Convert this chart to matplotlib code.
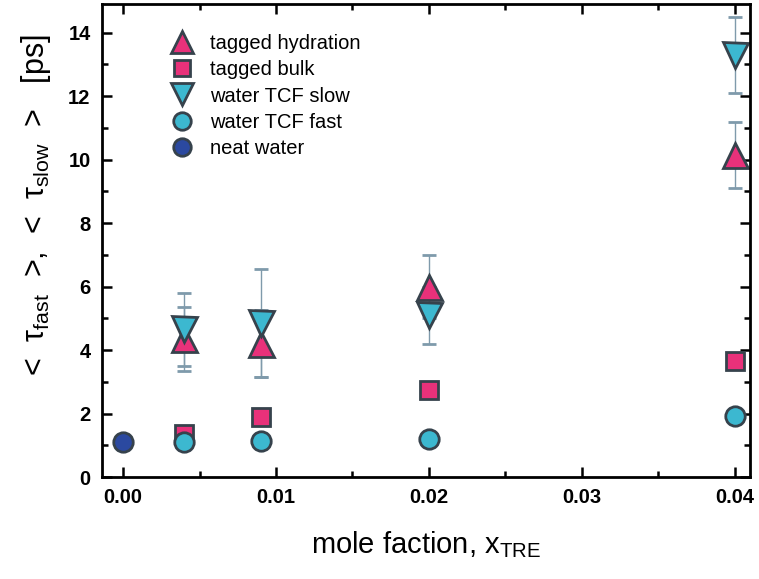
import matplotlib
matplotlib.use("Agg")
import matplotlib.pyplot as plt
from matplotlib.ticker import MultipleLocator, FormatStrFormatter

plt.rcParams['font.family'] = ['Liberation Sans', 'DejaVu Sans']
plt.rcParams['mathtext.fontset'] = 'custom'
plt.rcParams['mathtext.rm'] = 'Liberation Sans'
plt.rcParams['mathtext.it'] = 'Liberation Sans'

# ===== data =====
x_conc = [0.004, 0.009, 0.02, 0.04]

hydr_y = [4.35, 4.2, 6.0, 10.15]
hydr_err = [1.0, 1.05, 1.0, 1.05]

bulk_y = [1.35, 1.9, 2.75, 3.65]
bulk_err = [0.1, 0.1, 0.12, 0.15]

slow_y = [4.65, 4.85, 5.1, 13.3]
slow_err = [1.15, 1.7, 0.9, 1.2]

fast_y = [1.12, 1.15, 1.2, 1.92]
fast_err = [0.08, 0.08, 0.08, 0.1]

neat_x = [0.0]
neat_y = [1.1]

PINK = '#e8317a'
CYAN = '#3cb8d0'
NAVY = '#2b49a0'
EDGE = '#36424c'
ERR = '#7f9aab'

fig = plt.figure(figsize=(7.59, 5.79), dpi=100)
ax = fig.add_axes([0.134, 0.176, 0.854, 0.817])

common = dict(linestyle='none', ecolor=ERR, elinewidth=1.0, capsize=5,
              capthick=1.0, markeredgecolor=EDGE, markeredgewidth=2.0)

h1 = ax.errorbar(x_conc, hydr_y, yerr=hydr_err, marker='^', markersize=18,
                 markerfacecolor=PINK, **common)
h2 = ax.errorbar(x_conc, bulk_y, yerr=bulk_err, marker='s', markersize=13,
                 markerfacecolor=PINK, **common)
h3 = ax.errorbar(x_conc, slow_y, yerr=slow_err, marker='v', markersize=18,
                 markerfacecolor=CYAN, **common)
h4 = ax.errorbar(x_conc, fast_y, yerr=fast_err, marker='o', markersize=14,
                 markerfacecolor=CYAN, **common)
h5, = ax.plot(neat_x, neat_y, linestyle='none', marker='o', markersize=14,
              markerfacecolor=NAVY, markeredgecolor=EDGE, markeredgewidth=2.0)

ax.set_xlim(-0.0014, 0.041)
ax.set_ylim(0, 14.9)
ax.xaxis.set_major_locator(MultipleLocator(0.01))
ax.xaxis.set_minor_locator(MultipleLocator(0.005))
ax.yaxis.set_major_locator(MultipleLocator(2))
ax.yaxis.set_minor_locator(MultipleLocator(1))
ax.xaxis.set_major_formatter(FormatStrFormatter('%.2f'))

ax.tick_params(which='both', direction='in', top=True, right=True, width=1.8)
ax.tick_params(which='major', length=7, labelsize=14.5, pad=8)
ax.tick_params(which='minor', length=4)
for lab in ax.get_xticklabels() + ax.get_yticklabels():
    lab.set_fontweight('bold')
for sp in ax.spines.values():
    sp.set_linewidth(2.0)

ax.set_xlabel(r'mole faction, x$_{\mathrm{TRE}}$', fontsize=21, labelpad=16)
ax.set_ylabel(r'<  $\tau_{\mathrm{fast}}$  >,  <  $\tau_{\mathrm{slow}}$  >   [ps]',
              fontsize=22)
ax.yaxis.set_label_coords(-0.075, 0.575)

ax.legend([h1[0], h2[0], h3[0], h4[0], h5],
          ['tagged hydration', 'tagged bulk', 'water TCF slow',
           'water TCF fast', 'neat water'],
          loc='upper left', bbox_to_anchor=(0.08, 0.975), frameon=False,
          numpoints=1, handlelength=1.0, handletextpad=0.9,
          labelspacing=0.36, fontsize=14.5, markerscale=0.9)

fig.savefig('out.png', dpi=100)
plt.close(fig)
